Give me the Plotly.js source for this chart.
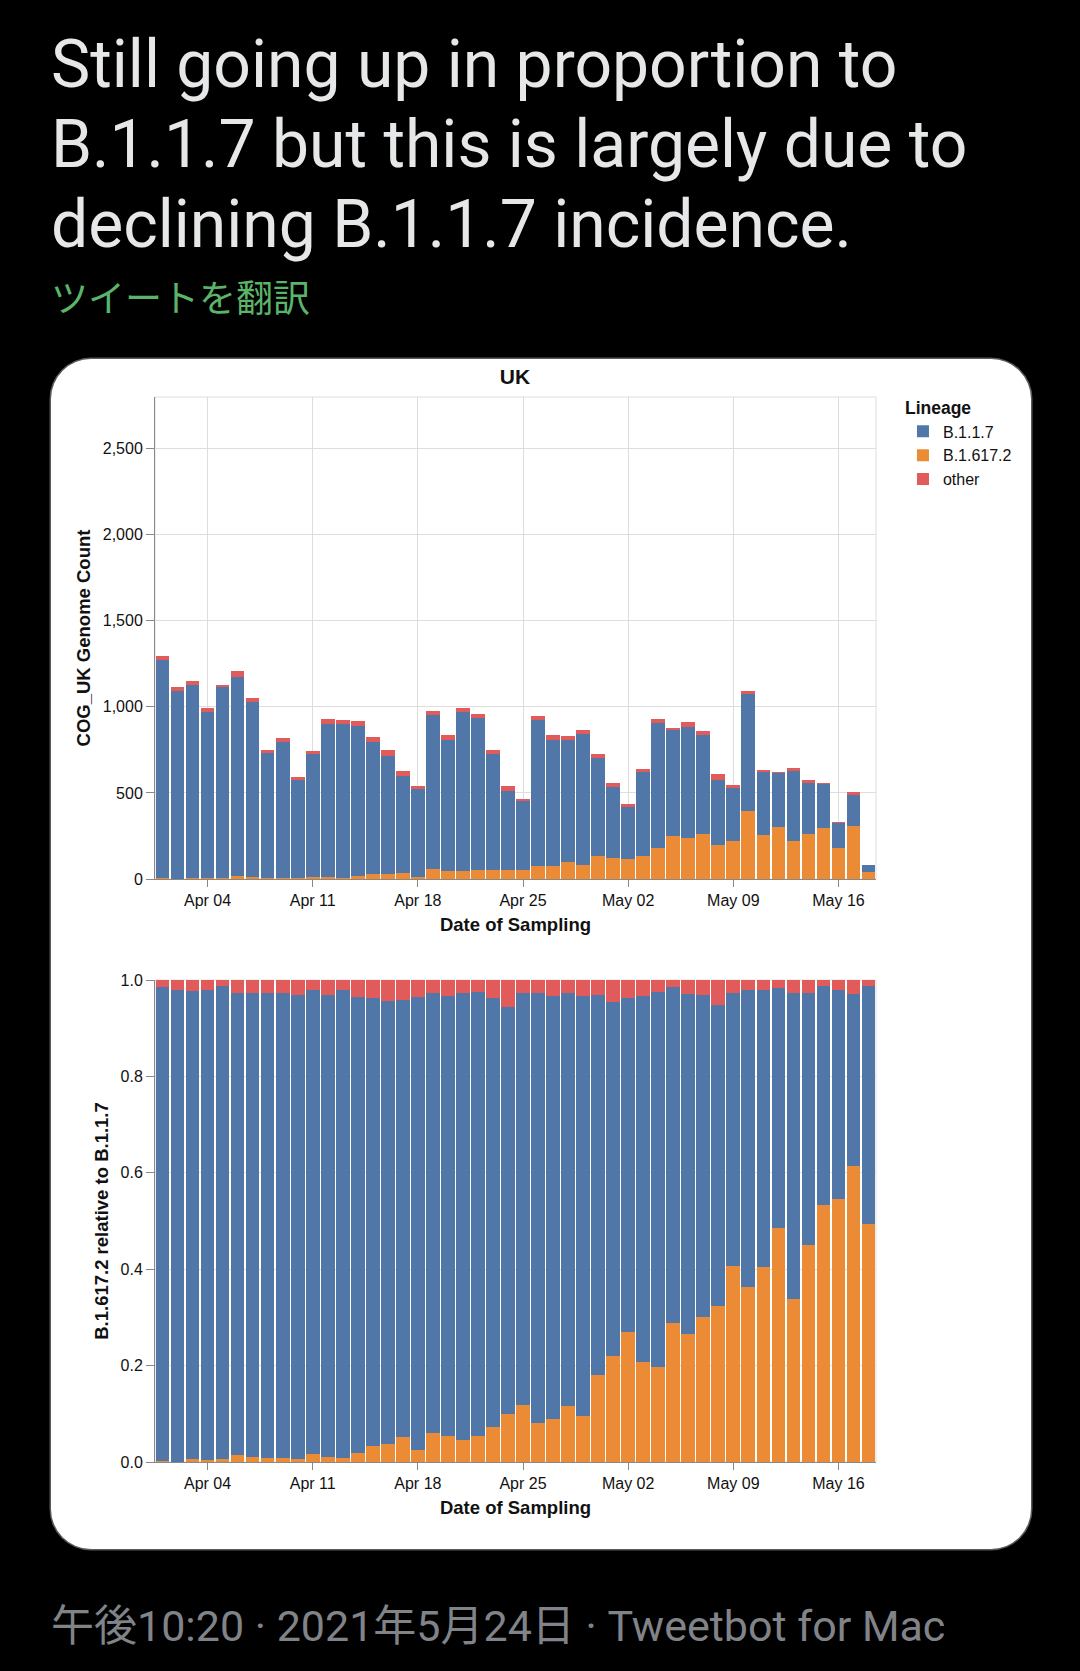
<!DOCTYPE html>
<html>
<head>
<meta charset="utf-8">
<script src="https://cdn.plot.ly/plotly-3.0.1.min.js"></script>
<style>
  html, body { margin: 0; padding: 0; background: #000; }
  body { width: 1080px; height: 1671px; position: relative; overflow: hidden;
         font-family: Roboto, "Noto Sans CJK JP", sans-serif; }
  #tweet { position: absolute; left: 51px; top: 25px; font-size: 66px; line-height: 80px;
           color: #e6e7e8; white-space: nowrap; }
  #translate { position: absolute; left: 51px; top: 278px; font-size: 37px; line-height: 37px;
               color: #5ab46a; font-family: "Noto Sans CJK JP", sans-serif; white-space: nowrap; }
  #card { position: absolute; left: 51px; top: 359px; width: 980px; height: 1190px;
          background: #fff; border-radius: 40px; box-shadow: 0 0 0 1.5px #5a5a5a; }
  #counts { position: absolute; left: 0; top: 359px; width: 1080px; height: 581px; }
  #shares { position: absolute; left: 0; top: 940px; width: 1080px; height: 600px; }
  #meta { position: absolute; left: 51px; top: 1605px; font-size: 43px; line-height: 43px;
          color: #808489; white-space: nowrap; }
</style>
</head>
<body>
<div id="tweet">Still going up in proportion to<br>B.1.1.7 but this is largely due to<br>declining B.1.1.7 incidence.</div>
<div id="translate">ツイートを翻訳</div>
<div id="card"></div>
<div id="counts"></div>
<div id="shares"></div>
<div id="meta">午後10:20 · 2021年5月24日 · Tweetbot for Mac</div>

<script>
// Sampling dates (one bar per day)
const dates = [
  '2021-04-01','2021-04-02','2021-04-03','2021-04-04','2021-04-05','2021-04-06','2021-04-07',
  '2021-04-08','2021-04-09','2021-04-10','2021-04-11','2021-04-12','2021-04-13','2021-04-14',
  '2021-04-15','2021-04-16','2021-04-17','2021-04-18','2021-04-19','2021-04-20','2021-04-21',
  '2021-04-22','2021-04-23','2021-04-24','2021-04-25','2021-04-26','2021-04-27','2021-04-28',
  '2021-04-29','2021-04-30','2021-05-01','2021-05-02','2021-05-03','2021-05-04','2021-05-05',
  '2021-05-06','2021-05-07','2021-05-08','2021-05-09','2021-05-10','2021-05-11','2021-05-12',
  '2021-05-13','2021-05-14','2021-05-15','2021-05-16','2021-05-17','2021-05-18'
];

// COG-UK genome counts per lineage
const b117 = [
  1272, 1090, 1119, 967, 1106, 1159, 1014, 723, 791, 573, 717, 893, 895, 870,
  768, 688, 567, 508, 893, 764, 924, 882, 670, 457, 397, 846, 732, 712,
  758, 572, 411, 301, 487, 721, 612, 644, 577, 380, 308, 676, 365, 311,
  411, 300, 252, 144, 180, 40
];
const b16172 = [
  3, 1, 7, 4, 7, 17, 12, 7, 7, 4, 12, 10, 8, 17,
  28, 28, 33, 14, 58, 45, 46, 52, 54, 54, 55, 77, 75, 97,
  82, 131, 123, 117, 133, 183, 252, 241, 259, 198, 222, 397, 256, 303,
  219, 259, 297, 182, 309, 40
];
const other = [
  20, 23, 27, 21, 15, 33, 28, 20, 22, 18, 15, 29, 19, 33,
  30, 32, 26, 19, 26, 28, 26, 23, 28, 30, 13, 25, 28, 22,
  28, 22, 26, 16, 21, 24, 12, 26, 26, 32, 15, 22, 13, 10,
  17, 15, 7, 7, 15, 1
];

const lineageNames = ['B.1.1.7', 'B.1.617.2', 'other'];
const lineageColours = ['#5177a8', '#ec8b35', '#e05b59'];

const font = 'Liberation Sans, Arial, Helvetica, sans-serif';
const DAY = 86400000;

function traces(showLegend) {
  // stacking order bottom→top: B.1.617.2, B.1.1.7, other
  const series = [
    { name: lineageNames[1], y: b16172, color: lineageColours[1], rank: 2 },
    { name: lineageNames[0], y: b117,   color: lineageColours[0], rank: 1 },
    { name: lineageNames[2], y: other,  color: lineageColours[2], rank: 3 }
  ];
  return series.map(s => ({
    type: 'bar', x: dates, y: s.y, name: s.name, legendrank: s.rank,
    marker: { color: s.color, line: { width: 0 } },
    showlegend: showLegend, hoverinfo: 'skip'
  }));
}

function xAxis() {
  return {
    type: 'date',
    range: ['2021-03-31 12:00', '2021-05-18 12:00'],
    tick0: '2021-04-04', dtick: 7 * DAY, tickformat: '%b %d',
    ticks: 'outside', ticklen: 7, tickwidth: 1, tickcolor: '#888',
    showgrid: true, gridcolor: '#dedede', gridwidth: 1,
    showline: true, linecolor: '#888', linewidth: 1, zeroline: false,
    tickfont: { family: font, size: 16, color: '#111' },
    title: { text: '<b>Date of Sampling</b>', font: { family: font, size: 18.5, color: '#111' }, standoff: 9 },
    fixedrange: true
  };
}

function yAxis(extra) {
  return Object.assign({
    ticks: 'outside', ticklen: 8, tickwidth: 1, tickcolor: '#888',
    showgrid: true, gridcolor: '#dedede', gridwidth: 1,
    showline: true, linecolor: '#888', linewidth: 1, zeroline: false,
    tickfont: { family: font, size: 16, color: '#111' },
    fixedrange: true
  }, extra);
}

const frame = {
  type: 'rect', xref: 'paper', yref: 'paper', x0: 0, x1: 1, y0: 0, y1: 1,
  line: { color: '#dedede', width: 1 }, layer: 'below'
};

const margins = (t, b) => ({ l: 155, r: 204, t: t, b: b });

// Daily counts, stacked
Plotly.newPlot('counts', traces(true), {
  width: 1080, height: 581,
  margin: margins(38, 61),
  paper_bgcolor: 'rgba(0,0,0,0)', plot_bgcolor: 'rgba(0,0,0,0)',
  barmode: 'stack', bargap: 0.09,
  title: { text: '<b>UK</b>', font: { family: font, size: 21, color: '#111' },
           xref: 'container', x: 515 / 1080, xanchor: 'center',
           yref: 'container', y: 1 - 18 / 581, yanchor: 'middle' },
  xaxis: xAxis(),
  yaxis: yAxis({ range: [0, 2800], dtick: 500, tickformat: ',',
                 title: { text: '<b>COG_UK Genome Count</b>', font: { family: font, size: 18.5, color: '#111' }, standoff: 7 } }),
  legend: {
    title: { text: '<b>Lineage</b>', font: { family: font, size: 17.5, color: '#111' } },
    font: { family: font, size: 16, color: '#111' },
    traceorder: 'normal', x: 1.0374, xanchor: 'left', y: 1.011, yanchor: 'top',
    bgcolor: 'rgba(0,0,0,0)', borderwidth: 0, itemwidth: 30
  },
  shapes: [frame]
}, { staticPlot: true, displayModeBar: false });

// Same counts normalised to a share of each day's total
Plotly.newPlot('shares', traces(false), {
  width: 1080, height: 600,
  margin: margins(40, 78),
  paper_bgcolor: 'rgba(0,0,0,0)', plot_bgcolor: 'rgba(0,0,0,0)',
  barmode: 'stack', barnorm: 'fraction', bargap: 0.09,
  showlegend: false,
  xaxis: xAxis(),
  yaxis: yAxis({ range: [0, 1], dtick: 0.2, tickformat: '.1f',
                 title: { text: '<b>B.1.617.2 relative to B.1.1.7</b>', font: { family: font, size: 18.5, color: '#111' }, standoff: 7 } }),
  shapes: [frame]
}, { staticPlot: true, displayModeBar: false });
</script>
</body>
</html>
